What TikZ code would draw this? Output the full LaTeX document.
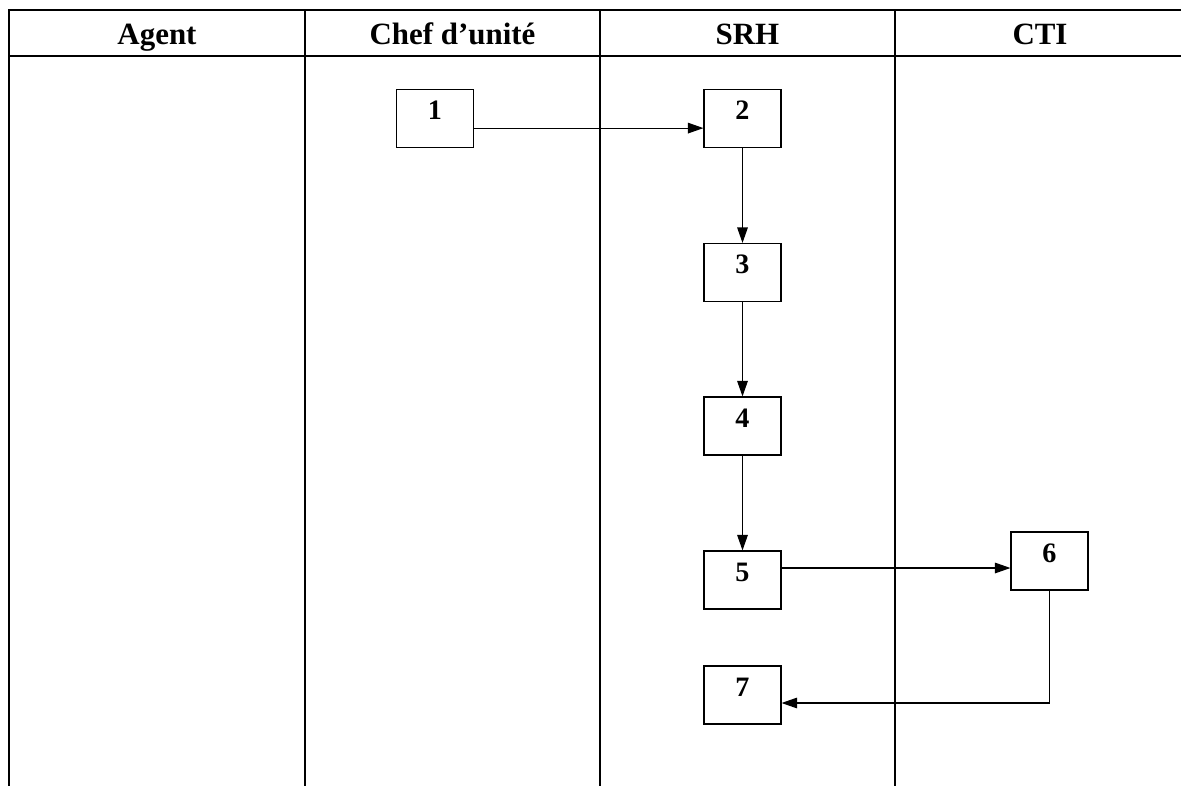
\documentclass[tikz,border=0pt]{standalone}
\usepackage{fontspec}
\setmainfont{Liberation Serif}
\usepackage{tikz}
\usetikzlibrary{positioning,arrows.meta,calc}

\begin{document}
\begin{tikzpicture}[
  lane/.style={line width=1.9pt,line cap=rect},
  head/.style={anchor=base,font=\fontsize{22}{26}\selectfont\bfseries},
  step box/.style={draw,line width=0.8pt,inner sep=0pt,minimum width=1.925cm,
                   text height=0.75cm,text depth=0.7cm,
                   font=\fontsize{20}{24}\selectfont\bfseries},
  arrow/.style={-{Triangle[length=11pt,width=7.5pt]},line width=0.8pt}
]
  \useasboundingbox (0,0) rectangle (29.525,-19.625);
  % swimlane grid
  \draw[lane] (29.6,-0.25) -- (0.225,-0.25) -- (0.225,-19.7);
  \draw[lane] (0.225,-1.4) -- (29.6,-1.4);
  \foreach \x in {7.625,15,22.375}
    \draw[lane] (\x,-0.25) -- (\x,-19.7);
  \node[head] (agent) at (3.925,-1.108) {Agent};
  \node[head] (chef) at (11.3125,-1.108) {Chef d’unité};
  \node[head] (srh) at (18.6875,-1.108) {SRH};
  \node[head] (cti) at (26.0,-1.108) {CTI};
  % steps
  \node[step box] (s1) at (10.875,-2.9625) {1};
  \node[step box] (s2) at (18.5625,-2.9625) {2};
  \node[step box] (s3) at (18.5625,-6.8125) {3};
  \node[step box] (s4) at (18.5625,-10.65) {4};
  \node[step box] (s5) at (18.5625,-14.5) {5};
  \node[step box] (s6) at (26.2375,-14.025) {6};
  \node[step box] (s7) at (18.5625,-17.375) {7};
  \draw[arrow] ([yshift=-2.4mm]s1.east) -- ([yshift=-2.4mm]s2.west);
  \draw[arrow] (s2) -- (s3);
  \draw[arrow] (s3) -- (s4);
  \draw[arrow] (s4) -- (s5);
  \draw[arrow] ([yshift=3mm]s5.east) -- ([yshift=3mm]s5.east -| s6.west);
  \draw[arrow] (s6.south) |- ([yshift=-2mm]s7.east);
\end{tikzpicture}
\end{document}
